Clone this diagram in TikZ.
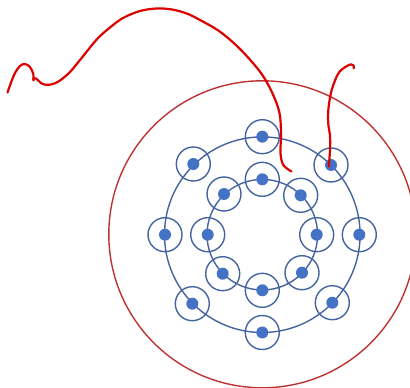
\documentclass[tikz,border=0pt]{standalone}
\begin{document}
\begin{tikzpicture}[x=0.75pt,y=-0.75pt,
  ringline/.style={draw=ringblue, line width=1.4pt*0.75},
  atomcirc/.style={circle, draw=ringblue, line width=1.4pt*0.75, minimum size=34*0.75pt, inner sep=0pt},
  dotfill/.style={circle, fill=dotblue, minimum size=12*0.75pt, inner sep=0pt},
  scribble/.style={draw=scribred, line width=2.2*0.75pt, line cap=round, line join=round},
  bigcirc/.style={draw=bigred, line width=1.4*0.75pt}]
\definecolor{ringblue}{RGB}{68,100,160}
\definecolor{dotblue}{RGB}{68,114,196}
\definecolor{scribred}{RGB}{220,0,0}
\definecolor{bigred}{RGB}{190,50,50}
\useasboundingbox (0,0) rectangle (410,388);
\clip (0,0) rectangle (410,388);
% big red circle
\coordinate (c) at (262.3,234.3);
\draw[bigcirc] (c) circle[radius=153.5*0.75pt];
% rings
\draw[ringline] (262.3,234.7) circle[radius=97.8*0.75pt];
\draw[ringline] (262.3,234.7) circle[radius=55.3*0.75pt];
% atoms on outer and inner rings
\foreach \n/\x/\y in {o1/262.3/136.7, o2/331/165, o3/359.3/234.7, o4/332.3/302.7, o5/262.3/332.5, o6/192.3/303.7, o7/165/234.7, o8/193.3/164,
  i1/262.3/179.3, i2/300.7/195.3, i3/316.7/234.7, i4/302/272.7, i5/262.3/290.3, i6/222.7/273.7, i7/207.7/234.7, i8/224/194}{
  \node[atomcirc] (\n) at (\x,\y) {};
  \node[dotfill] (\n d) at (\x,\y) {};
}
% red scribbles
\draw[scribble] plot[smooth, tension=0.55] coordinates {(7.5,92.5) (14,75) (20,66) (25,64) (30,67) (33.3,74) (33.5,80.5)};
\draw[scribble] plot[smooth, tension=0.55] coordinates {(33,79) (36,78.5) (41,83) (46,84.8) (53,84) (60,80.5) (70,72) (80,60) (96.7,39.5) (110,27.5) (123,18) (140,11) (156.7,8.5) (172,9.5) (186.7,13.5) (200,20) (220,31.7) (240,49) (260,71.7) (271.7,91.7) (279.3,112) (281,133) (280.5,153) (283.3,165) (291.5,171.5)};
\draw[scribble] plot[smooth, tension=0.55] coordinates {(328.8,166.5) (330,150) (330,136) (328.2,123) (328.5,108) (331.7,90) (338,74) (344.5,67.5) (351,64.3) (353.5,65.5) (353.8,68.3)};
\end{tikzpicture}
\end{document}
